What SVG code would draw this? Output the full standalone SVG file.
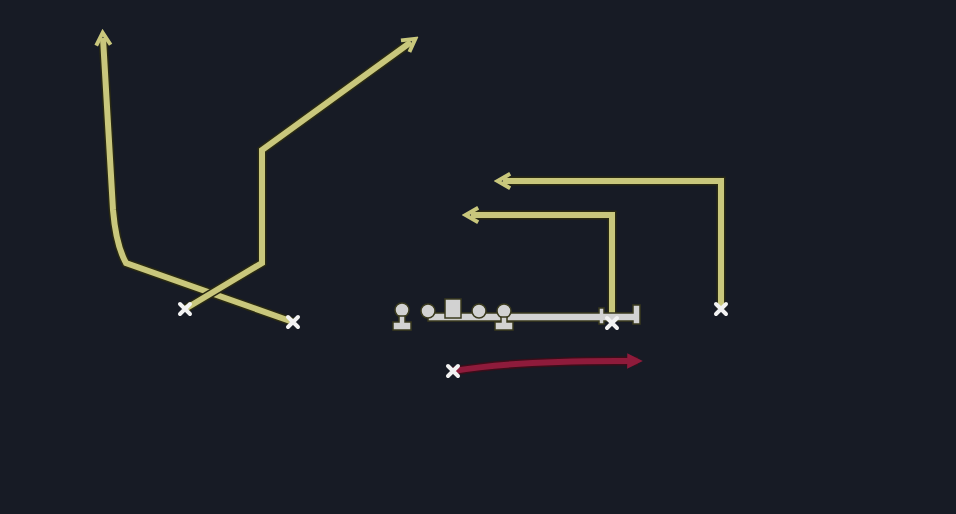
<svg xmlns="http://www.w3.org/2000/svg" width="956" height="514" viewBox="0 0 956 514">
<defs>
<style>
.route{fill:none;stroke:#c9c77c;stroke-width:6;stroke-linejoin:miter;stroke-linecap:butt}
.routeo{fill:none;stroke:#2a2a12;stroke-width:9;stroke-linejoin:miter}
.red{fill:none;stroke:#8e1b3b;stroke-width:6}
.redo{fill:none;stroke:#3a0e1a;stroke-width:9}
.line{fill:#d2d2d2;stroke:#3a3a1e;stroke-width:1.5}
.x{stroke:#f2f2f2;stroke-width:4;stroke-linecap:round}
</style>
<marker id="ay" viewBox="0 0 10 10" refX="5" refY="5" markerWidth="3" markerHeight="3.2" orient="auto" markerUnits="strokeWidth">
<path d="M1,1 L8,5 L1,9" fill="none" stroke="#c9c77c" stroke-width="2.2"/>
</marker>
<marker id="ar" viewBox="0 0 10 10" refX="5" refY="5" markerWidth="2.6" markerHeight="2.6" orient="auto" markerUnits="strokeWidth">
<path d="M0,0 L10,5 L0,10 Z" fill="#8e1b3b"/>
</marker>
</defs>
<rect width="956" height="514" fill="#171b25"/>
<g id="connectors">
<path class="routeo" d="M293,322 L126,263 Q116,245 113,210 L103,38"/>
<path class="route" d="M293,322 L126,263 Q116,245 113,210 L103,38" marker-end="url(#ay)"/>
<path class="routeo" d="M185,309 L262,263 L262,150 L411,42"/>
<path class="route" d="M185,309 L262,263 L262,150 L411,42" marker-end="url(#ay)"/>
<path class="routeo" d="M612,322 L612,215 L471,215"/>
<path class="route" d="M612,322 L612,215 L471,215" marker-end="url(#ay)"/>
<path class="routeo" d="M721,309 L721,181 L503,181"/>
<path class="route" d="M721,309 L721,181 L503,181" marker-end="url(#ay)"/>
<path class="redo" d="M453,371 Q520,360 638,361"/>
<path class="red" d="M453,371 Q520,360 635,361" marker-end="url(#ar)"/>
</g>
<g id="line">
<path class="line" d="M428,313 L599,313 L599,308 L604,308 L604,313 L633,313 L633,305 L640,305 L640,324 L633,324 L633,321 L604,321 L604,324 L599,324 L599,321 L428,321 Z"/>
</g>
<g id="p1"><circle cx="402" cy="310" r="7" class="line"/><path class="line" d="M399,316 L405,316 L405,322 L411,322 L411,330 L393,330 L393,322 L399,322 Z"/></g>
<g id="p2"><circle cx="428" cy="311" r="7" class="line"/></g>
<g id="c"><rect x="445" y="299" width="16" height="19" class="line" fill="#eaeaea"/></g>
<g id="p3"><circle cx="479" cy="311" r="7" class="line"/></g>
<g id="p4"><circle cx="504" cy="311" r="7" class="line"/><path class="line" d="M501,317 L507,317 L507,322 L513,322 L513,330 L495,330 L495,322 L501,322 Z"/></g>
<g id="x1"><path class="x" d="M180,304 L190,314 M190,304 L180,314"/></g>
<g id="x2"><path class="x" d="M288,317 L298,327 M298,317 L288,327"/></g>
<g id="x3"><path class="x" d="M607,318 L617,328 M617,318 L607,328"/></g>
<g id="x4"><path class="x" d="M716,304 L726,314 M726,304 L716,314"/></g>
<g id="x5"><path class="x" d="M448,366 L458,376 M458,366 L448,376"/></g>
</svg>
